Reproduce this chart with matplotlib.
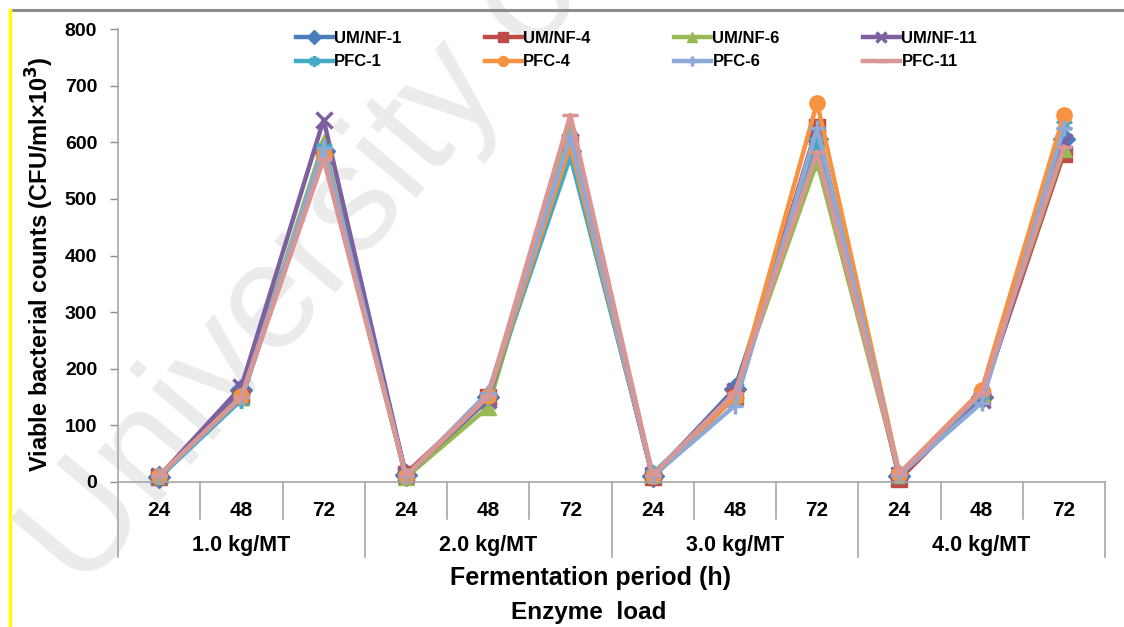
import numpy as np
import matplotlib
matplotlib.use('Agg')
import matplotlib.pyplot as plt
from matplotlib import transforms

plt.rcParams['font.family'] = ['Liberation Sans', 'DejaVu Sans']
plt.rcParams['font.weight'] = 'bold'

# fermentation period (h) within each enzyme load
periods = ['24', '48', '72']
loads = ['1.0 kg/MT', '2.0 kg/MT', '3.0 kg/MT', '4.0 kg/MT']

# viable counts, CFU/ml x 10^3, ordered load by load (24, 48, 72 h)
um_nf_1 = [8, 162, 585, 12, 150, 585, 10, 165, 605, 10, 150, 605]
um_nf_4 = [8, 150, 575, 15, 150, 600, 8, 150, 627, 5, 150, 580]
um_nf_6 = [10, 150, 600, 8, 132, 625, 12, 155, 566, 12, 155, 588]
um_nf_11 = [10, 168, 640, 12, 145, 600, 12, 160, 610, 12, 145, 600]
pfc_1 = [8, 145, 590, 10, 150, 575, 15, 150, 600, 15, 155, 630]
pfc_4 = [10, 152, 577, 10, 152, 595, 10, 150, 670, 15, 162, 648]
pfc_6 = [10, 150, 590, 10, 158, 610, 10, 135, 625, 12, 140, 625]
pfc_11 = [12, 150, 570, 12, 152, 648, 12, 158, 583, 15, 158, 592]

series = [
    ('UM/NF-1', um_nf_1, '#4A7EBB', 'D'),
    ('UM/NF-4', um_nf_4, '#BE4B48', 's'),
    ('UM/NF-6', um_nf_6, '#98B954', '^'),
    ('UM/NF-11', um_nf_11, '#7D60A0', 'x'),
    ('PFC-1', pfc_1, '#46AAC5', (6, 2, 0)),
    ('PFC-4', pfc_4, '#F69240', 'o'),
    ('PFC-6', pfc_6, '#8EA9D5', '+'),
    ('PFC-11', pfc_11, '#D99694', '_'),
]

fig = plt.figure(figsize=(11.24, 6.27), dpi=100)
ax = fig.add_axes([118 / 1124, 1 - 482 / 627, (1105 - 118) / 1124, (482 - 29) / 627])
ax.set_facecolor('none')

# faint watermark behind everything
fig.text(0.0, 0.02, 'University of Malaya', fontsize=108, color='#ebebeb',
         rotation=50, fontweight='normal', ha='left', va='bottom', zorder=-5)

# page frame: grey top rule and yellow margin line
fig.add_artist(plt.Line2D([11 / 1124, 1], [1 - 10 / 627, 1 - 10 / 627],
                          transform=fig.transFigure, color='#8c8c8c', lw=2.2))
fig.add_artist(plt.Line2D([10 / 1124, 10 / 1124], [0, 1 - 10 / 627],
                          transform=fig.transFigure, color='#FFFF00', lw=2.5))

ncat = len(periods) * len(loads)
x = np.arange(ncat)
handles = []
for name, vals, col, mk in series:
    if mk in ('x', '+', '_') or isinstance(mk, tuple):
        h, = ax.plot(x, vals, color=col, lw=3.2, marker=mk, ms=12, mew=2.5,
                     mec=col, label=name, clip_on=False)
    else:
        h, = ax.plot(x, vals, color=col, lw=3.2, marker=mk, ms=11, mec=col,
                     mfc=col, label=name, clip_on=False)
    handles.append(h)

ax.set_xlim(-0.5, ncat - 0.5)
ax.set_ylim(0, 800)
ax.set_yticks(np.arange(0, 801, 100))
ax.tick_params(axis='y', direction='out', length=6, width=1, color='#8c8c8c',
               labelsize=14, pad=9)
for lab in ax.get_yticklabels():
    lab.set_fontweight('bold')

ax.set_xticks(x)
ax.set_xticklabels(periods * len(loads), fontsize=15, fontweight='bold')
ax.tick_params(axis='x', length=0, pad=14)

for side in ('top', 'right'):
    ax.spines[side].set_visible(False)
for side in ('left', 'bottom'):
    ax.spines[side].set_color('#a6a6a6')
    ax.spines[side].set_linewidth(1.2)

# multi-level category axis separators
tr = transforms.blended_transform_factory(ax.transData, ax.transAxes)
h_small = (519 - 482) / (482 - 29)
h_group = (557 - 482) / (482 - 29)
for b in np.arange(ncat + 1) - 0.5:
    depth = h_group if round(b + 0.5) % len(periods) == 0 else h_small
    ax.plot([b, b], [0, -depth], transform=tr, color='#a6a6a6', lw=1.2,
            clip_on=False)
for i, load in enumerate(loads):
    ax.text(i * len(periods) + 1, -(545 - 482) / (482 - 29), load, transform=tr,
            ha='center', va='center', fontsize=15.5, fontweight='bold')

fig.text(591 / 1124, 1 - 578 / 627, 'Fermentation period (h)', ha='center',
         va='center', fontsize=18, fontweight='bold')
fig.text(589 / 1124, 1 - 612 / 627, 'Enzyme  load', ha='center',
         va='center', fontsize=17.5, fontweight='bold')
fig.text(40 / 1124, 1 - 264 / 627, 'Viable bacterial counts (CFU/ml\u00d710$^{3}$)',
         rotation=90, ha='center', va='center', fontsize=17, fontweight='bold')

# legend filled row by row (four per row)
order = [0, 4, 1, 5, 2, 6, 3, 7]
leg = fig.legend([handles[i] for i in order], [series[i][0] for i in order],
                 loc='upper left', bbox_to_anchor=(296 / 1124, 1 - 31 / 627),
                 ncol=4, frameon=False, fontsize=12, handlelength=2.2,
                 handletextpad=0.1, columnspacing=5.0, labelspacing=0.5,
                 borderaxespad=0, borderpad=0, markerscale=0.65)
for t in leg.get_texts():
    t.set_fontweight('bold')

fig.savefig('out.png', dpi=100)
